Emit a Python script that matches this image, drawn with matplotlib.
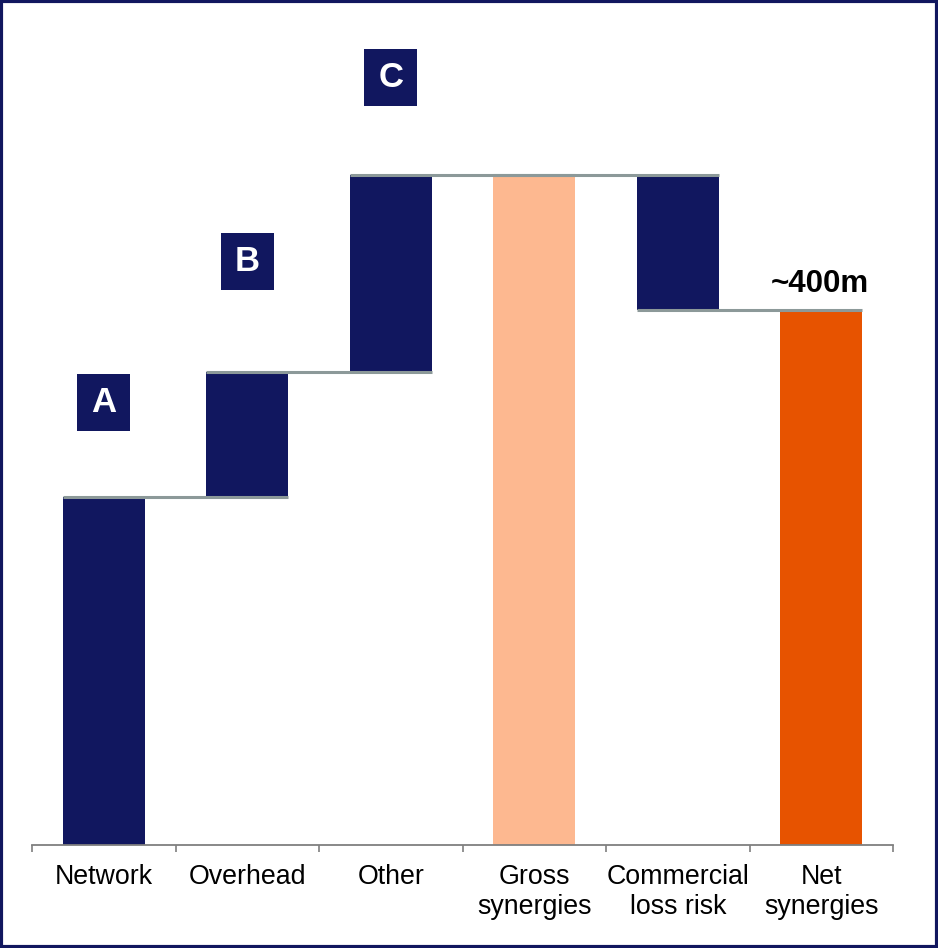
import matplotlib
matplotlib.use("Agg")
import matplotlib.pyplot as plt
from matplotlib.patches import Rectangle

plt.rcParams['font.family'] = ['Liberation Sans', 'DejaVu Sans']

# Waterfall data (EUR m)
categories = ["Network", "Overhead", "Other", "Gross\nsynergies", "Commercial\nloss risk", "Net\nsynergies"]
deltas = [260, 94, 147, None, -101, None]   # None marks a total bar
box_letters = ["A", "B", "C"]
net_label = "~400m"

NAVY = "#11175F"
PEACH = "#FDB890"
ORANGE = "#E75300"
CONNECT = "#8C9999"
AXIS = "#7F7F7F"

fig = plt.figure(figsize=(9.38, 9.48), dpi=100)
ax = fig.add_axes([32 / 938, 103 / 948, 861 / 938, 802.5 / 948])

bw = 0.57
running = 0
bottoms, tops, colors = [], [], []
for i, d in enumerate(deltas):
    if d is None:
        lo, hi = 0, running
        colors.append(PEACH if i == 3 else ORANGE)
    else:
        lo, hi = sorted([running, running + d])
        running += d
        colors.append(NAVY)
    bottoms.append(lo)
    tops.append(hi)

x = list(range(len(categories)))
ax.bar(x, [t - b for t, b in zip(tops, bottoms)], bottom=bottoms, width=bw,
       color=colors, linewidth=0, zorder=2)

# connectors between consecutive bars
level = 0
levels = []
for d in deltas:
    if d is not None:
        level += d
    levels.append(level)
for i in range(len(x) - 1):
    y = levels[i]
    ax.plot([x[i] - bw / 2, x[i + 1] + bw / 2], [y, y], color=CONNECT, lw=2.2,
            solid_capstyle='butt', zorder=3)

# lettered boxes above the three cost buckets
box_w, box_h = 0.37, 42.6
box_offsets = [71, 82, 73]
for i, (letter, off) in enumerate(zip(box_letters, box_offsets)):
    cy = tops[i] + off
    ax.add_patch(Rectangle((x[i] - box_w / 2, cy - box_h / 2), box_w, box_h,
                           facecolor=NAVY, edgecolor='none', zorder=4, clip_on=False))
    ax.text(x[i], cy, letter, color='white', fontsize=25, fontweight='bold',
            ha='center', va='center', zorder=5)

ax.annotate(net_label, (x[5], tops[5]), xytext=(-1, 8), textcoords='offset points',
            ha='center', va='bottom', fontsize=22.5, fontweight='bold', color='black')

ax.set_xlim(-0.5, len(x) - 0.5)
ax.set_ylim(0, 600)
for s in ['top', 'right', 'left']:
    ax.spines[s].set_visible(False)
ax.spines['bottom'].set_color(AXIS)
ax.spines['bottom'].set_linewidth(1.3)
ax.set_yticks([])

ax.set_xticks([i - 0.5 for i in range(len(x) + 1)])
ax.set_xticklabels([])
ax.tick_params(axis='x', which='major', length=5, width=1.2, color=AXIS)
ax.set_xticks(x, minor=True)
ax.set_xticklabels(categories, minor=True, fontsize=19.3, linespacing=1.17)
ax.tick_params(axis='x', which='minor', length=0, pad=14)

fig.add_artist(Rectangle((0.0015, 0.0015), 0.997, 0.997, transform=fig.transFigure,
                         fill=False, edgecolor=NAVY, linewidth=3))

fig.savefig("out.png", dpi=100)
